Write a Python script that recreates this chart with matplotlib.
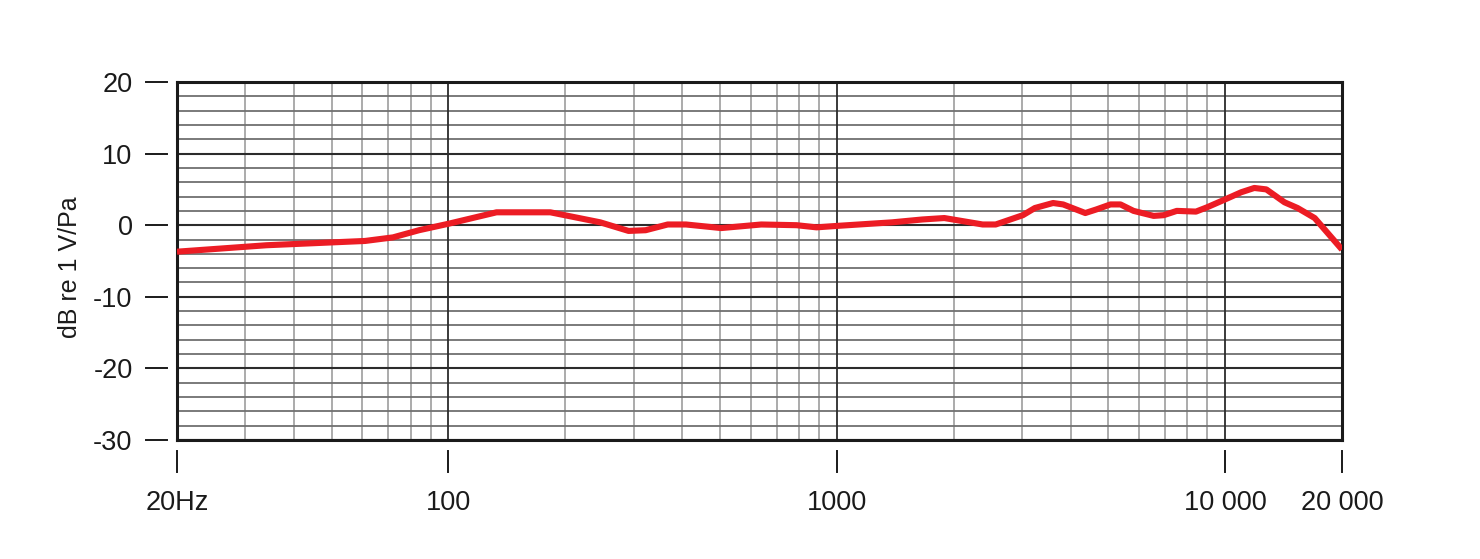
import matplotlib
matplotlib.use('Agg')
import matplotlib.pyplot as plt
import matplotlib.transforms as mtransforms
import numpy as np

plt.rcParams['font.family'] = ['Liberation Sans', 'DejaVu Sans']

# frequency response (Hz, dB re 1 V/Pa)
freq = [20, 34, 61, 72, 84, 100, 133, 183, 246, 291, 322, 367, 409, 504, 639,
        788, 887, 1000, 1389, 1661, 1892, 2375, 2566, 3015, 3237, 3606, 3828,
        4365, 4660, 5068, 5378, 5810, 6546, 6950, 7510, 8414, 8984, 10000,
        11000, 11890, 12770, 14220, 15370, 17010, 20000]
level = [-3.7, -2.8, -2.2, -1.7, -0.7, 0.2, 1.8, 1.8, 0.4, -0.8, -0.7, 0.1,
         0.1, -0.4, 0.1, 0.0, -0.3, -0.1, 0.4, 0.8, 1.0, 0.1, 0.1, 1.4, 2.4,
         3.1, 2.9, 1.7, 2.2, 2.9, 2.9, 2.0, 1.3, 1.4, 2.0, 1.9, 2.5, 3.6,
         4.6, 5.2, 5.0, 3.2, 2.4, 1.0, -3.4]

x_ticks = [20, 100, 1000, 10000, 20000]
x_labels = ['20Hz', '100', '1000', '10 000', '20 000']
y_ticks = [20, 10, 0, -10, -20, -30]
y_labels = ['20', '10', '0', '-10', '-20', '-30']

fig = plt.figure(figsize=(14.8, 5.59), dpi=100)
ax = fig.add_axes([177 / 1480, 1 - 440 / 559, 1165 / 1480, 358 / 559])

# grid
minor_x = [m * d for d in (10, 100, 1000) for m in range(2, 10) if 20 < m * d < 20000]
for f in minor_x:
    ax.axvline(f, color='#ababab', lw=1.4, zorder=1)
for f in (100, 1000, 10000):
    ax.axvline(f, color='#2b2b2b', lw=1.3, zorder=2)
for v in range(-30, 21, 2):
    if v % 10:
        ax.axhline(v, color='#707070', lw=1.3, zorder=1.5)
    else:
        ax.axhline(v, color='#2b2b2b', lw=1.5, zorder=2)

ax.plot(freq, level, color='#ec1c24', lw=4.4, solid_joinstyle='round',
        solid_capstyle='butt', zorder=3)

ax.set_xscale('log')
ax.set_xlim(20, 20000)
ax.set_ylim(-30, 20)
ax.set_xticks(x_ticks)
ax.set_xticklabels(x_labels)
ax.xaxis.set_minor_locator(matplotlib.ticker.NullLocator())
ax.set_yticks(y_ticks)
ax.set_yticklabels(y_labels)
ax.tick_params(length=0, labelsize=19.5, colors='#1a1a1a')
ax.tick_params(axis='y', pad=32)
ax.tick_params(axis='x', pad=36)
for sp in ax.spines.values():
    sp.set_linewidth(2.2)
    sp.set_color('#1a1a1a')

# detached tick marks
ty = mtransforms.blended_transform_factory(ax.transAxes, ax.transData)
for v in y_ticks:
    ax.plot([-0.0266, -0.0086], [v, v], transform=ty, color='#1a1a1a',
            lw=1.4, clip_on=False)
tx = mtransforms.blended_transform_factory(ax.transData, ax.transAxes)
for f in x_ticks:
    ax.plot([f, f], [-0.031, -0.089], transform=tx, color='#1a1a1a',
            lw=1.4, clip_on=False)

fig.text(70 / 1480, 1 - 267 / 559, 'dB re 1 V/Pa', rotation=90, ha='center',
         va='center', fontsize=18, color='#1a1a1a')

fig.savefig('out.png', dpi=100, facecolor='white')
